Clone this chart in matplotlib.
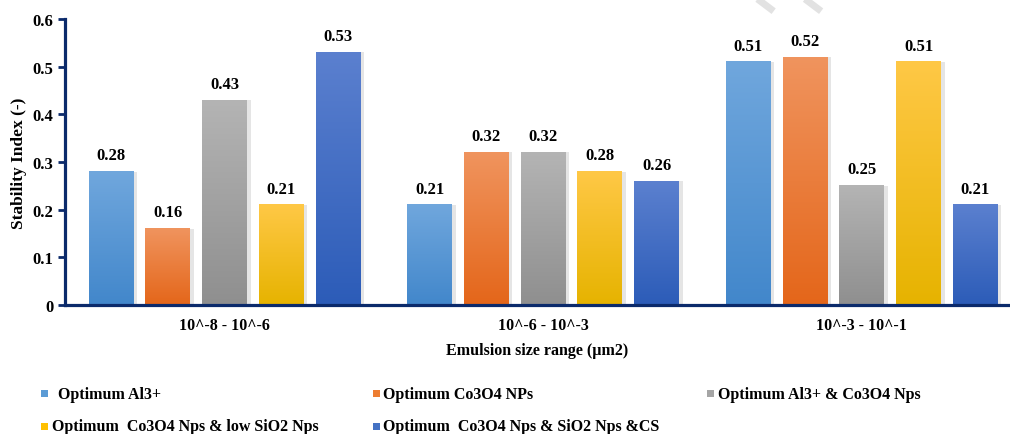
import numpy as np
import matplotlib
matplotlib.use("Agg")
import matplotlib.pyplot as plt
from matplotlib.colors import LinearSegmentedColormap
from matplotlib.patches import Rectangle
from matplotlib.lines import Line2D

plt.rcParams['font.family'] = ['Liberation Serif', 'DejaVu Serif']
plt.rcParams['font.weight'] = 'bold'

# data
size_ranges = ['10^-8 - 10^-6', '10^-6 - 10^-3', '10^-3 - 10^-1']
labels = ['Optimum Al3+', 'Optimum Co3O4 NPs', 'Optimum Al3+ & Co3O4 Nps',
          'Optimum  Co3O4 Nps & low SiO2 Nps', 'Optimum  Co3O4 Nps & SiO2 Nps &CS']
al3 = [0.28, 0.21, 0.51]
co3o4 = [0.16, 0.32, 0.52]
al3_co3o4 = [0.43, 0.32, 0.25]
co3o4_low_sio2 = [0.21, 0.28, 0.51]
co3o4_sio2_cs = [0.53, 0.26, 0.21]
series = [al3, co3o4, al3_co3o4, co3o4_low_sio2, co3o4_sio2_cs]

# top / bottom colours of each bar gradient
grad = [('#70a7dd', '#4287cb'),
        ('#f0945e', '#e4661a'),
        ('#b4b4b4', '#8f8f8f'),
        ('#ffc846', '#e6b300'),
        ('#5b80cf', '#2c5cb8')]
legend_colors = ['#5b9bd5', '#ed7d31', '#a5a5a5', '#ffc000', '#4472c4']
navy = '#0b2a6b'

fig = plt.figure(figsize=(10.1, 4.35), dpi=100)
ax = fig.add_axes([0.064, 0.2966, 0.936, 0.6575])

x = np.arange(len(size_ranges))
pitch = 0.178
width = 0.141
grad_img = np.linspace(1, 0, 256).reshape(-1, 1)

for i, vals in enumerate(series):
    cmap = LinearSegmentedColormap.from_list('g%d' % i, [grad[i][1], grad[i][0]])
    pos = x + (i - 2) * pitch
    for xp, v in zip(pos, vals):
        # soft shadow to the right
        ax.add_patch(Rectangle((xp - width / 2 + 0.011, 0), width, v,
                               facecolor='#000000', alpha=0.10, lw=0, zorder=1))
        ax.imshow(grad_img, extent=(xp - width / 2, xp + width / 2, 0, v),
                  cmap=cmap, aspect='auto', zorder=2, interpolation='bicubic')
        ax.annotate('%.2f' % v, (xp, v), xytext=(0, 6), textcoords='offset points',
                    ha='center', va='bottom', fontsize=12, fontweight='bold')

ax.set_xlim(-0.502, 2.465)
ax.set_ylim(0, 0.6)
ticks = np.arange(0, 0.61, 0.1)
ax.set_yticks(ticks)
ax.set_yticklabels(['0' if t == 0 else '%.1f' % t for t in ticks])
ax.set_xticks(x)
ax.set_xticklabels(size_ranges)
ax.tick_params(axis='y', length=5, width=2, color=navy, labelsize=12, pad=3)
ax.tick_params(axis='x', length=0, labelsize=11.5, pad=9)
for spine in ['top', 'right']:
    ax.spines[spine].set_visible(False)
for spine in ['left', 'bottom']:
    ax.spines[spine].set_color(navy)
    ax.spines[spine].set_linewidth(2.3)
ax.set_ylabel('Stability Index (-)', fontsize=12.5, fontweight='bold', labelpad=4)
ax.set_xlabel('Emulsion size range (\u00b5m2)', fontsize=11.5, fontweight='bold', labelpad=6)

# legend rows, three columns
col_x = [0.041, 0.369, 0.700]
row_y = [0.092, 0.018]
sq = 0.0069
for i, lab in enumerate(labels):
    r, c = divmod(i, 3)
    fig.add_artist(Rectangle((col_x[c], row_y[r] - sq * 10.1 / 4.35 / 2), sq, sq * 10.1 / 4.35,
                             transform=fig.transFigure, facecolor=legend_colors[i], lw=0))
    off = 0.016 if i == 0 else 0.0105
    fig.text(col_x[c] + off, row_y[r], lab, fontsize=11.5, fontweight='bold',
             va='center', ha='left')

# faint diagonal marks along the top edge
for x0 in [0.750, 0.797]:
    fig.add_artist(Line2D([x0, x0 + 0.016], [1.0, 0.972], transform=fig.transFigure,
                          color='#e2e2e2', lw=5, solid_capstyle='butt'))

fig.savefig('out.png', dpi=100)
